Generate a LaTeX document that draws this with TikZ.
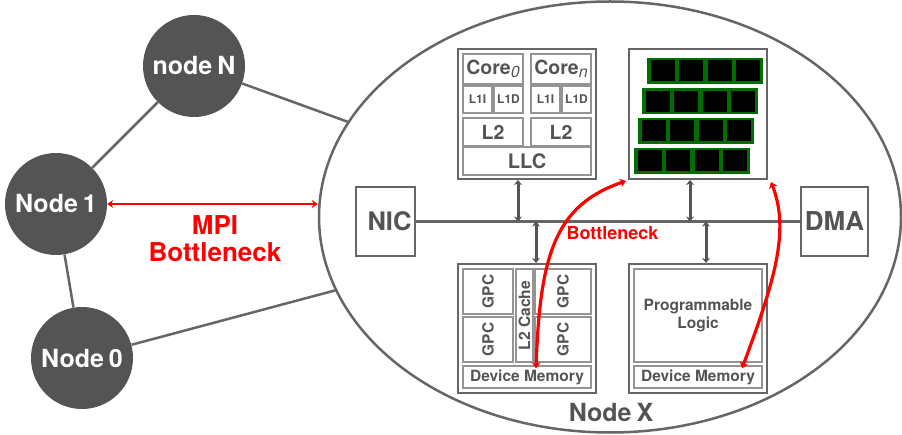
\documentclass[tikz,border=0pt]{standalone}
\usepackage{fontspec}
\setmainfont{TeX Gyre Heros}
\usepackage{xcolor}
\usepackage{tikz}
\usetikzlibrary{shapes.geometric, arrows.meta, calc}

\definecolor{inkgray}{gray}{0.33}
\definecolor{boxgray}{gray}{0.40}
\definecolor{cellgray}{gray}{0.58}
\definecolor{rowgreen}{rgb}{0,0.43,0}

\newcommand{\fsize}[1]{\fontsize{#1}{#1}\selectfont\bfseries}

\tikzstyle{peer} = [circle, fill=inkgray, inner sep=0pt, minimum size=102pt, text=white, font=\fsize{25}]
\tikzstyle{outer} = [draw=boxgray, line width=2pt, fill=white, inner sep=0pt]
\tikzstyle{cell} = [draw=cellgray, line width=1.3pt, fill=white, inner sep=0pt, text=inkgray]
\tikzstyle{wire} = [draw=boxgray, line width=2.5pt]
\tikzstyle{busarrow} = [draw=inkgray, line width=3pt, {Stealth[length=5pt,width=8pt]}-{Stealth[length=5pt,width=8pt]}]
\tikzstyle{redarrow} = [draw=red, line width=3.2pt, {Stealth[length=6pt,width=9pt]}-{Stealth[length=6pt,width=9pt]}]
\tikzstyle{redtext} = [text=red, align=center, inner sep=0pt]

\begin{document}
\begin{tikzpicture}[x=1pt, y=-1pt]
\useasboundingbox (0,0) rectangle (902,435);

% Node X outline
\node[ellipse, draw=boxgray, line width=2.5pt, inner sep=0pt, minimum width=582pt, minimum height=431pt] (nodeX) at (610,217) {};
\node[text=inkgray, inner sep=0pt, font=\fsize{25}] (nodeXlabel) at (611,412) {Node\hspace{-2pt} X};

% Cluster nodes
\node[peer] (nodeN) at (194,66) {node\hspace{-2pt} N};
\node[peer] (node1) at (56,204) {Node\hspace{-2pt} 1};
\node[peer] (node0) at (82,358) {Node\hspace{-2pt} 0};
\draw[wire] (nodeN) -- (node1);
\draw[wire] (node1) -- (node0);
\draw[wire] (nodeN) -- (nodeX);
\draw[wire] (node0) -- (nodeX);

% MPI link
\draw[draw=red, line width=2.6pt, {Stealth[length=6pt,width=8pt]}-{Stealth[length=6pt,width=8pt]}] (node1) -- (node1 -| nodeX.west);
\node[redtext, font=\fsize{26}] (mpilabel) at (215,239) {MPI\\[1pt]Bottleneck};

% NIC, DMA and the bus
\node[outer, minimum width=59pt, minimum height=69pt, text=inkgray, font=\fsize{25.5}] (nic) at (385.5,221.5) {\hspace*{8pt}NIC};
\node[outer, minimum width=67pt, minimum height=69pt, text=inkgray, font=\fsize{26}] (dma) at (834.5,221.5) {DMA};
\draw[wire] (nic) -- (dma);

% CPU box
\node[outer, minimum width=138pt, minimum height=130pt] (cpu) at (527,114) {};
\node[cell, minimum width=60pt, minimum height=30pt, font=\fsize{19.5}] (core0) at (493,69) {Core{\fontsize{16}{16}\selectfont\mdseries\itshape\raisebox{-3pt}{0}}};
\node[cell, minimum width=60pt, minimum height=30pt, font=\fsize{19.5}] (coren) at (561,69) {Core{\fontsize{16}{16}\selectfont\mdseries\itshape\raisebox{-3pt}{n}}};
\node[cell, minimum width=29pt, minimum height=27pt, font=\fsize{12}] (l1ia) at (477.5,99.5) {L1I};
\node[cell, minimum width=29pt, minimum height=27pt, font=\fsize{12}] (l1da) at (508.5,99.5) {L1D};
\node[cell, minimum width=29pt, minimum height=27pt, font=\fsize{12}] (l1ib) at (545.5,99.5) {L1I};
\node[cell, minimum width=29pt, minimum height=27pt, font=\fsize{12}] (l1db) at (576.5,99.5) {L1D};
\node[cell, minimum width=60pt, minimum height=28pt, font=\fsize{19.5}] (l2a) at (493,132) {L2};
\node[cell, minimum width=60pt, minimum height=28pt, font=\fsize{19.5}] (l2b) at (561,132) {L2};
\node[cell, minimum width=128pt, minimum height=28pt, font=\fsize{20}] (llc) at (527,161) {LLC};

% Row box with its black blocks
\node[outer, minimum width=138pt, minimum height=130pt] (rows) at (698,114) {};
\foreach \rname/\rx/\ry in {a/647/71, b/642/101.5, c/638/131, d/634/161} {
  \node[fill=rowgreen, inner sep=0pt, minimum width=116pt, minimum height=26pt, anchor=west] (row\rname) at (\rx,\ry) {};
  \foreach \cx in {4,32.2,60.4,88.6}
    \node[fill=black, inner sep=0pt, minimum width=24pt, minimum height=21pt, anchor=west] (block\rname\cx) at (\rx+\cx,\ry) {};
}

% GPU box
\node[outer, minimum width=138pt, minimum height=129pt] (gpu) at (527,328.5) {};
\node[cell, minimum width=50pt, minimum height=45pt, font=\fsize{15.4}] (gpca) at (488,291.5) {\rotatebox{90}{GPC}};
\node[cell, minimum width=50pt, minimum height=45pt, font=\fsize{15.4}] (gpcb) at (488,339.5) {\rotatebox{90}{GPC}};
\node[cell, minimum width=17pt, minimum height=93pt, font=\fsize{15.6}] (gpul2) at (524.5,315.5) {\rotatebox{90}{L2 Cache}};
\node[cell, minimum width=56pt, minimum height=45pt, font=\fsize{15.4}] (gpcc) at (563,291.5) {\rotatebox{90}{GPC}};
\node[cell, minimum width=56pt, minimum height=45pt, font=\fsize{15.4}] (gpcd) at (563,339.5) {\rotatebox{90}{GPC}};
\node[cell, minimum width=128pt, minimum height=22pt, font=\fsize{15.5}] (gpumem) at (527,377) {Device Memory};

% FPGA box
\node[outer, minimum width=138pt, minimum height=129pt] (fpga) at (698,328.5) {};
\node[cell, minimum width=128pt, minimum height=93pt, align=center, font=\fsize{15.5}] (logic) at (698,315.5) {Programmable\\[3pt]Logic};
\node[cell, minimum width=128pt, minimum height=22pt, font=\fsize{15.5}] (fpgamem) at (698,377) {Device Memory};

% Links to the bus
\draw[busarrow] ([xshift=-9pt]cpu.south) -- ([xshift=-9pt]cpu.south |- nic.east);
\draw[busarrow] ([xshift=-8pt]rows.south) -- ([xshift=-8pt]rows.south |- nic.east);
\draw[busarrow] ([xshift=9pt]gpu.north) -- ([xshift=9pt]gpu.north |- nic.east);
\draw[busarrow] ([xshift=8pt]fpga.north) -- ([xshift=8pt]fpga.north |- nic.east);

% Red memory paths
\draw[redarrow] ([xshift=9pt,yshift=-3pt]gpumem.north) .. controls (540,255) and (555,205) .. ([xshift=-2pt,yshift=-1pt]rows.south west);
\draw[redarrow] ([xshift=44pt,yshift=-3pt]fpgamem.north) .. controls (775,280) and (790,230) .. ([xshift=3pt,yshift=-2pt]rows.south east);
\node[redtext, font=\fsize{18}] (buslabel) at (612.5,233) {Bottleneck};
\end{tikzpicture}
\end{document}
